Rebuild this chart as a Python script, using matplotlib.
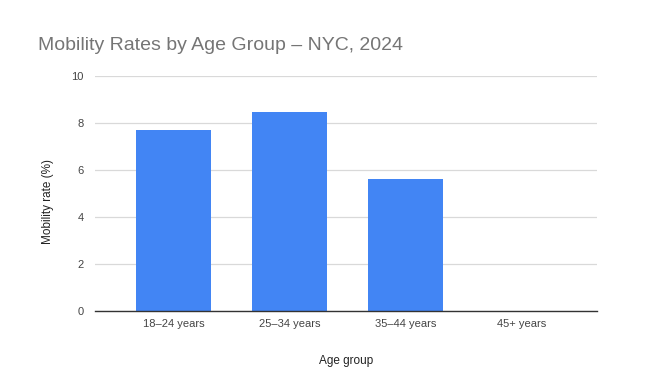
import numpy as np
import matplotlib.pyplot as plt

plt.rcParams['font.family'] = ['Liberation Sans', 'DejaVu Sans']

# data
age_groups = ['18–24 years', '25–34 years', '35–44 years', '45+ years']
mobility = [7.7, 8.45, 5.6, 0]
yticks = [0, 2, 4, 6, 8, 10]

fig = plt.figure(figsize=(6.67, 3.92), dpi=100)
ax = fig.add_axes([0.1424, 0.2066, 0.7526, 0.5995])

x = np.arange(len(age_groups))
ax.bar(x, mobility, width=0.65, color='#4285F4', zorder=3)

ax.set_xlim(-0.68, 3.65)
ax.set_ylim(0, 10)
ax.set_yticks(yticks)
ax.set_xticks(x)
ax.set_xticklabels(age_groups)
ax.tick_params(axis='both', length=0, labelsize=8, colors='#444444')
ax.tick_params(axis='y', pad=8)
ax.tick_params(axis='x', pad=6)

ax.grid(axis='y', color='#d9d9d9', linewidth=0.9, zorder=0)
for s in ['top', 'right', 'left']:
    ax.spines[s].set_visible(False)
ax.spines['bottom'].set_color('#333333')
ax.spines['bottom'].set_linewidth(1)
ax.spines['bottom'].set_zorder(4)

ax.set_xlabel('Age group', fontsize=8.5, color='#222222')
ax.xaxis.set_label_coords(0.5, -0.187)
ax.set_ylabel('Mobility rate (%)', fontsize=8.5, color='#222222', va='center')
ax.yaxis.set_label_coords(-0.0936, 0.468)

fig.text(38/667, 1 - 46/392, 'Mobility Rates by Age Group – NYC, 2024',
         fontsize=14, color='#757575', ha='left', va='center')

plt.savefig('out.png', dpi=100)
